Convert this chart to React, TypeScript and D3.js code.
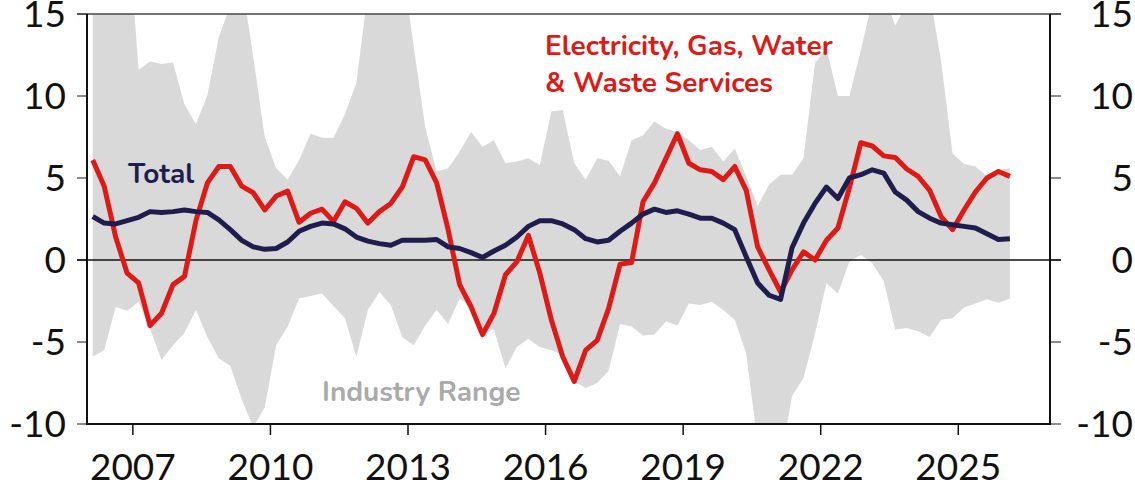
import React from 'react'
import * as d3 from 'd3'

// quarterly data, 2006Q1 .. 2026Q1
const startYear = 2006
const electricity = [6.1, 4.5, 1.4, -0.8, -1.4, -4.0, -3.25, -1.5, -1.0, 2.4, 4.7, 5.7, 5.7, 4.5, 4.1, 3.05, 3.9, 4.2, 2.3, 2.85, 3.1,
  2.35, 3.55, 3.15, 2.25, 2.95, 3.45, 4.45, 6.3, 6.1, 4.7, 1.85, -1.5, -2.85, -4.55, -3.25, -0.9, -0.1, 1.5, -0.8, -3.65,
  -5.9, -7.4, -5.5, -4.9, -2.95, -0.25, -0.15, 3.55, 4.7, 6.2, 7.7, 5.9, 5.5, 5.4, 4.9, 5.7, 4.25, 0.8, -0.6, -1.95,
  -0.6, 0.5, 0.0, 1.2, 1.95, 4.4, 7.15, 6.95, 6.35, 6.25, 5.55, 5.1, 4.25, 2.65, 1.85, 3.05, 4.15, 5.0, 5.4, 5.1]
const total = [2.65, 2.25, 2.2, 2.4, 2.6, 2.95, 2.9, 2.95, 3.05, 2.95, 2.9, 2.45, 1.85, 1.2, 0.8, 0.65, 0.7, 1.1, 1.75, 2.05, 2.25,
  2.2, 1.9, 1.4, 1.15, 1.0, 0.9, 1.2, 1.2, 1.2, 1.25, 0.8, 0.7, 0.45, 0.15, 0.55, 0.9, 1.4, 2.05, 2.4, 2.4,
  2.2, 1.85, 1.3, 1.1, 1.2, 1.75, 2.25, 2.8, 3.1, 2.9, 3.0, 2.8, 2.55, 2.55, 2.25, 1.85, 0.2, -1.4, -2.15, -2.4,
  0.75, 2.25, 3.45, 4.45, 3.75, 5.0, 5.2, 5.5, 5.3, 4.15, 3.65, 2.95, 2.55, 2.25, 2.15, 2.05, 1.95, 1.6, 1.25, 1.3]
const rangeHigh = [17, 18, 19, 21, 11.6, 12.1, 11.95, 12.05, 9.5, 8.3, 10.05, 13.6, 15.5, 17, 12.4, 7.5, 5.6, 4.9, 6.1, 7.7, 7.45,
  7.45, 8.9, 10.8, 16.4, 18, 19, 18, 13.0, 8.1, 5.4, 5.6, 6.6, 7.8, 6.9, 7.3, 5.9, 6.0, 6.2, 5.8, 9.05,
  9.15, 5.9, 4.9, 6.2, 6.05, 5.1, 7.3, 7.6, 8.45, 8.0, 7.8, 7.3, 6.7, 6.9, 6.0, 6.8, 5.1, 3.3, 4.6, 5.2,
  5.2, 6.2, 12.0, 12.9, 10.0, 10.0, 12.8, 15.8, 16.2, 14.3, 15.6, 16.2, 16.3, 12.1, 6.5, 5.85, 5.7, 5.1, 5.5, 5.6]
const rangeLow = [-5.9, -5.5, -2.85, -3.1, -2.55, -4.2, -6.1, -5.2, -4.45, -3.05, -4.7, -6.0, -6.45, -8.5, -10.2, -9.0, -5.2, -4.05, -2.35, -2.2, -2.05,
  -2.8, -3.55, -5.9, -3.05, -1.95, -2.75, -4.7, -5.2, -4.0, -3.05, -3.9, -2.35, -2.85, -4.15, -4.25, -6.6, -5.3, -4.8, -5.3, -5.5,
  -5.8, -7.4, -7.8, -7.5, -6.75, -3.9, -4.05, -4.6, -4.55, -3.75, -4.0, -2.65, -2.75, -2.55, -3.05, -3.65, -5.7, -11.2, -12, -12.2,
  -8.3, -7.2, -4.5, -1.4, -2.05, -0.1, 0.3, -0.2, -1.3, -4.25, -4.15, -4.35, -4.7, -3.65, -3.55, -2.9, -2.65, -2.4, -2.6, -2.35]
const yTicks = [-10, -5, 0, 5, 10, 15]
const xTicks = [2007, 2010, 2013, 2016, 2019, 2022, 2025]

const W = 1135
const H = 484
const left = 87, right = 1050, top = 14, bottom = 424

const App = () => {
  const x = d3.scaleLinear().domain([2006, 2027]).range([left, right])
  const y = d3.scaleLinear().domain([-10, 15]).range([bottom, top])
  const t = (i: number) => startYear + i / 4 + 0.125

  const band = d3.area<number>()
    .x((_, i) => x(t(i)))
    .y0((_, i) => y(rangeLow[i]))
    .y1((d) => y(d))
  const line = d3.line<number>()
    .x((_, i) => x(t(i)))
    .y((d) => y(d))

  const numFont = 'Lato, "Noto Sans", sans-serif'
  const labFont = 'Nunito, Lato, "Open Sans", sans-serif'

  return (
    <svg width={W} height={H} style={{ position: 'absolute', left: 0, top: 0 }}>
      <defs>
        <clipPath id="plot">
          <rect x={left} y={top} width={right - left} height={bottom - top} />
        </clipPath>
      </defs>
      <g clipPath="url(#plot)">
        <path d={band(rangeHigh) || ''} fill="#d9d9d9" />
      </g>
      {/* y ticks both sides */}
      {yTicks.map((v) => (
        <g key={v}>
          <line x1={left - 10} x2={left} y1={y(v)} y2={y(v)} stroke="#666" strokeWidth={1.5} />
          <line x1={right} x2={right + 11} y1={y(v)} y2={y(v)} stroke="#666" strokeWidth={1.5} />
          <text x={66} y={y(v)} dy="0.36em" textAnchor="end" fontFamily={numFont} fontSize={37} fill="#111">{v}</text>
          <text x={1133} y={y(v)} dy="0.36em" textAnchor="end" fontFamily={numFont} fontSize={37} fill="#111">{v}</text>
        </g>
      ))}
      <line x1={left - 10} x2={right + 11} y1={y(0)} y2={y(0)} stroke="#111" strokeWidth={1.5} />
      <line x1={left - 10} x2={right + 11} y1={top} y2={top} stroke="#444" strokeWidth={1.5} />
      <line x1={left} x2={left} y1={top} y2={bottom + 1} stroke="#111" strokeWidth={2} />
      <line x1={right} x2={right} y1={top} y2={bottom + 1} stroke="#111" strokeWidth={2} />
      <line x1={left} x2={right} y1={bottom} y2={bottom} stroke="#111" strokeWidth={2} />
      {xTicks.map((v) => (
        <g key={v}>
          <line x1={x(v)} x2={x(v)} y1={bottom} y2={bottom + 11} stroke="#111" strokeWidth={1.5} />
          <text x={x(v)} y={480} textAnchor="middle" fontFamily={numFont} fontSize={37} fill="#111">{v}</text>
        </g>
      ))}
      <g clipPath="url(#plot)">
        <path d={line(electricity) || ''} fill="none" stroke="#df1a16" strokeWidth={5} strokeLinejoin="round" />
        <path d={line(total) || ''} fill="none" stroke="#1f1c4e" strokeWidth={5} strokeLinejoin="round" />
      </g>
      <text x={545} y={55} fontFamily={labFont} fontWeight={700} fontSize={28} fill="#df1a16">Electricity, Gas, Water</text>
      <text x={545} y={92} fontFamily={labFont} fontWeight={700} fontSize={28} fill="#df1a16">&amp; Waste Services</text>
      <text x={128} y={183} fontFamily={labFont} fontWeight={700} fontSize={28} fill="#1f1c4e">Total</text>
      <text x={322} y={401} fontFamily={labFont} fontWeight={700} fontSize={28} fill="#aaaaaa">Industry Range</text>
    </svg>
  )
}

export default App
